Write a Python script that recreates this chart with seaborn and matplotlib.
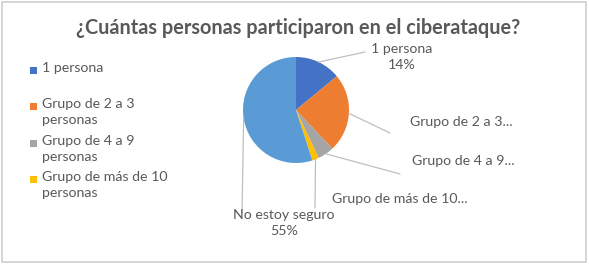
import numpy as np
import matplotlib.pyplot as plt
import seaborn as sns
from matplotlib.patches import Rectangle

# Datos del gráfico
categorias = ["1 persona", "Grupo de 2 a 3 personas", "Grupo de 4 a 9 personas",
              "Grupo de más de 10 personas", "No estoy seguro"]
porcentajes = [14, 24, 5, 2, 55]
colores = ["#4472C4", "#ED7D31", "#A5A5A5", "#FFC000", "#5B9BD5"]
leyenda = ["1 persona", "Grupo de 2 a 3\npersonas", "Grupo de 4 a 9\npersonas",
           "Grupo de más de 10\npersonas"]
etiquetas = ["1 persona\n14%", "Grupo de 2 a 3...", "Grupo de 4 a 9...",
             "Grupo de más de 10...", "No estoy seguro\n55%"]

sns.set_theme(style="white")
plt.rcParams['font.family'] = ['Lato', 'DejaVu Sans']
gris = "#595959"
linea = "#BFBFBF"

W, H = 589, 270
fig = plt.figure(figsize=(W / 100, H / 100), dpi=100)

def fx(x):
    return x / W

def fy(y):
    return 1 - y / H

# marco
fig.add_artist(Rectangle((fx(2), fy(262)), fx(584), 260 / H, transform=fig.transFigure,
                         fill=False, edgecolor="#D0D0D0", linewidth=1.2))

# pie: centro (296,110), radio 53
ax = fig.add_axes([fx(243), fy(163), 106 / W, 106 / H])
wedges, _ = ax.pie(porcentajes, colors=colores, startangle=90, counterclock=False,
                   wedgeprops=dict(linewidth=0))
ax.set_xlim(-1, 1)
ax.set_ylim(-1, 1)
ax.set_aspect("equal")
ax.axis("off")

# líneas guía desde el centro de cada porción
extremos = [(365, 52), (390, 133), (400, 174), (315, 208), (242, 213)]
for w, (ex, ey) in zip(wedges, extremos):
    ang = np.deg2rad((w.theta1 + w.theta2) / 2)
    ax.annotate("", xy=(np.cos(ang), np.sin(ang)), xycoords="data",
                xytext=(ex, H - ey), textcoords="figure pixels",
                arrowprops=dict(arrowstyle="-", color=linea, lw=0.9,
                                shrinkA=0, shrinkB=0))

pos_etq = [(402, 57, "center"), (410, 122, "left"), (412, 161, "left"),
           (332, 199, "left"), (284, 223, "center")]
for txt, (x, y, ha) in zip(etiquetas, pos_etq):
    fig.text(fx(x), fy(y), txt, ha=ha, va="center", fontsize=10.2, color=gris,
             linespacing=1.35)

# leyenda manual
for i, (txt, c) in enumerate(zip(leyenda, colores[:4])):
    y = 70 + i * 36.3
    fig.add_artist(Rectangle((fx(30), fy(y + 4)), 7 / W, 7 / H, transform=fig.transFigure,
                             facecolor=c, edgecolor="none"))
    fig.text(fx(42), fy(y - 8), txt, ha="left", va="top", fontsize=10.2, color=gris,
             linespacing=1.4)

fig.text(fx(298), fy(28), "¿Cuántas personas participaron en el ciberataque?",
         ha="center", va="center", fontsize=14.3, fontweight="bold", color=gris)

fig.savefig("out.png", dpi=100)
